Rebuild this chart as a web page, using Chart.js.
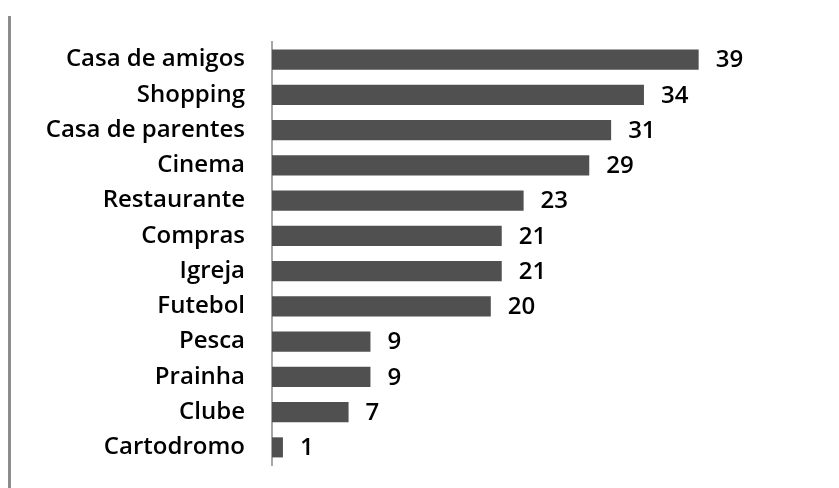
<!DOCTYPE html>
<html>
<head>
<meta charset="utf-8">
<script src="https://cdn.jsdelivr.net/npm/chart.js@4"></script>
<style>
  html, body { margin: 0; padding: 0; background: #fff; }
  #wrap { position: relative; width: 839px; height: 488px; }
  #edge { position: absolute; left: 8px; top: 16px; width: 3px; height: 472px; background: #8c8c8c; }
</style>
</head>
<body>
<div id="wrap">
  <div id="edge"></div>
  <canvas id="barChart" width="839" height="488"></canvas>
</div>
<script>
const categories = ['Casa de amigos', 'Shopping', 'Casa de parentes', 'Cinema', 'Restaurante',
  'Compras', 'Igreja', 'Futebol', 'Pesca', 'Prainha', 'Clube', 'Cartodromo'];
const counts = [39, 34, 31, 29, 23, 21, 21, 20, 9, 9, 7, 1];
const xMax = 50;

const fontFamily = '"Open Sans", Lato, sans-serif';
const fontSize = 24;

// write the value right after each bar
const valueLabels = {
  id: 'valueLabels',
  afterDatasetsDraw(chart) {
    const { ctx } = chart;
    const meta = chart.getDatasetMeta(0);
    ctx.save();
    ctx.font = `600 ${fontSize}px ${fontFamily}`;
    ctx.fillStyle = '#000';
    ctx.textBaseline = 'middle';
    meta.data.forEach((bar, i) => {
      ctx.fillText(String(counts[i]), bar.x + 17, bar.y + 1);
    });
    ctx.restore();
  },
};

const ctx = document.getElementById('barChart').getContext('2d');
// eslint-disable-next-line no-undef, no-unused-vars
const chart = new Chart(ctx, {
  type: 'bar',
  data: {
    labels: categories,
    datasets: [{
      data: counts,
      backgroundColor: '#505050',
      borderWidth: 0,
      barPercentage: 0.57,
      categoryPercentage: 1,
    }],
  },
  options: {
    indexAxis: 'y',
    responsive: false,
    animation: false,
    layout: { padding: { top: 42, bottom: 23, left: 0, right: 20 } },
    plugins: {
      legend: { display: false },
      tooltip: { enabled: false },
    },
    scales: {
      x: {
        display: false,
        min: 0,
        max: xMax,
      },
      y: {
        afterFit(scale) {
          scale.width = 272;
          // tick padding would otherwise push the plot in from top and bottom
          scale.paddingTop = 0;
          scale.paddingBottom = 0;
        },
        grid: { display: false, drawTicks: false },
        border: { display: true, color: '#a6a6a6', width: 2 },
        ticks: {
          color: '#000',
          padding: 27,
          font: { family: fontFamily, size: fontSize, weight: 600 },
        },
      },
    },
  },
  plugins: [valueLabels],
});
</script>
</body>
</html>
